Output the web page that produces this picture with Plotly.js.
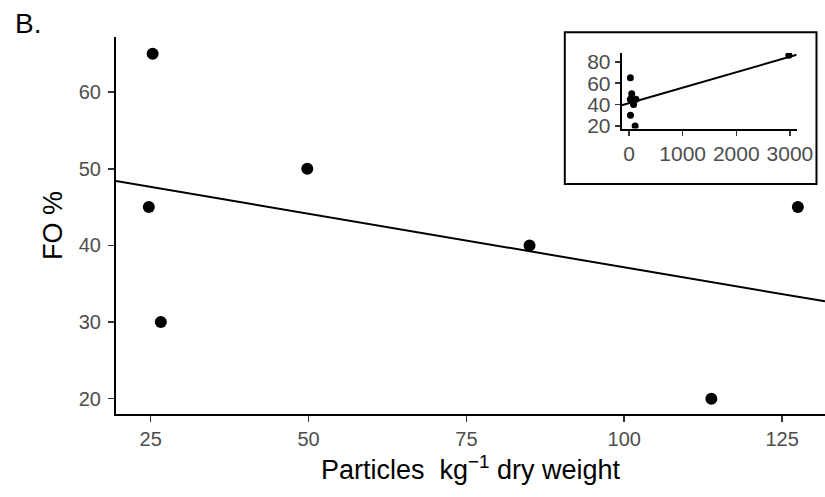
<!DOCTYPE html>
<html>
<head>
<meta charset="utf-8">
<script src="https://cdn.plot.ly/plotly-3.0.1.min.js"></script>
<style>html,body{margin:0;padding:0;background:#fff;}#chart{width:825px;height:497px;}</style>
</head>
<body>
<div id="chart"></div>
<script>
// Main panel data
const particles = [25.3, 24.7, 26.6, 49.8, 85.0, 113.8, 127.5];
const foPct = [65, 45, 30, 50, 40, 20, 45];
// Fitted line endpoints
const fitX = [19.5, 131.8];
const fitY = [48.4, 32.7];

// Inset data (same samples plus the large outlier)
const insetParticles = [25.3, 24.7, 26.6, 49.8, 85.0, 113.8, 127.5, 2980];
const insetFo = [65, 45, 30, 50, 40, 20, 45, 86];
const insetFitX = [-136, 3125];
const insetFitY = [39.3, 86.5];

const xTicks = [25, 50, 75, 100, 125];
const yTicks = [20, 30, 40, 50, 60];
const insetXTicks = [0, 1000, 2000, 3000];
const insetYTicks = [20, 40, 60, 80];

const FONT = 'Liberation Sans, Arial, Helvetica, sans-serif';
const TICKC = '#4D4D4D';

const traces = [
  {x: fitX, y: fitY, mode: 'lines', line: {color: '#000', width: 2}, xaxis: 'x', yaxis: 'y', hoverinfo: 'skip'},
  {x: particles, y: foPct, mode: 'markers', marker: {color: '#000', size: 12}, xaxis: 'x', yaxis: 'y'},
  {x: insetFitX, y: insetFitY, mode: 'lines', line: {color: '#000', width: 2}, xaxis: 'x2', yaxis: 'y2', hoverinfo: 'skip'},
  {x: insetParticles, y: insetFo, mode: 'markers', marker: {color: '#000', size: 7}, xaxis: 'x2', yaxis: 'y2'}
];

const axisCommon = {
  showgrid: false, zeroline: false, showline: true, linecolor: '#000', linewidth: 2,
  ticks: 'outside', ticklen: 6, tickwidth: 1.5, tickcolor: '#333333',
  tickfont: {family: FONT, size: 20, color: TICKC}
};

const layout = {
  width: 825, height: 497,
  margin: {l: 116, r: 0, t: 37, b: 83, pad: 0},
  paper_bgcolor: '#fff', plot_bgcolor: '#fff',
  showlegend: false,
  font: {family: FONT},
  xaxis: Object.assign({}, axisCommon, {
    domain: [0, 1], range: [19.5, 131.8], tickvals: xTicks, ticktext: xTicks.map(String),
    anchor: 'y',
    title: {text: 'Particles&nbsp; kg<sup>\u22121</sup> dry weight', font: {family: FONT, size: 27, color: '#000'}, standoff: 11}
  }),
  yaxis: Object.assign({}, axisCommon, {
    domain: [0, 1], range: [18.0, 67.2], tickvals: yTicks, ticktext: yTicks.map(String),
    anchor: 'x', ticklabelstandoff: 3,
    title: {text: 'FO %', font: {family: FONT, size: 27, color: '#000'}, standoff: 8}
  }),
  xaxis2: Object.assign({}, axisCommon, {
    domain: [0.7133, 0.960], range: [-136, 3125], tickvals: insetXTicks, ticktext: insetXTicks.map(String),
    anchor: 'y2', tickfont: {family: FONT, size: 21, color: TICKC}, ticklen: 5
  }),
  yaxis2: Object.assign({}, axisCommon, {
    domain: [0.757, 0.9576], range: [17.5, 88.2], tickvals: insetYTicks, ticktext: insetYTicks.map(String),
    anchor: 'x2', tickfont: {family: FONT, size: 21, color: TICKC}, ticklen: 5
  }),
  shapes: [
    {type: 'rect', xref: 'paper', yref: 'paper', x0: 0.633, x1: 0.988, y0: 0.610, y1: 1.0125,
     line: {color: '#000', width: 2}, fillcolor: '#fff', layer: 'below'}
  ],
  annotations: [
    {text: 'B.', xref: 'paper', yref: 'paper', x: -0.145, y: 1.083, xanchor: 'left', yanchor: 'top',
     showarrow: false, font: {family: FONT, size: 28, color: '#000'}}
  ]
};

Plotly.newPlot('chart', traces, layout, {staticPlot: true, displayModeBar: false});
</script>
</body>
</html>
